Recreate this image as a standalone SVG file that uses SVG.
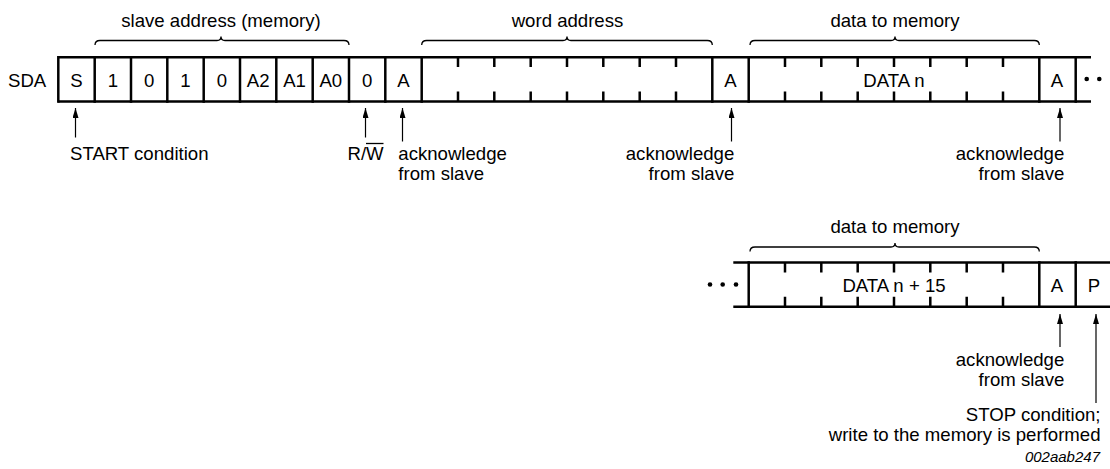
<svg xmlns="http://www.w3.org/2000/svg" width="1110" height="469" viewBox="0 0 1110 469">
<style>
text{font-family:"Liberation Sans",Arial,sans-serif;font-size:18.6px;fill:#000}
.c{text-anchor:middle}
.e{text-anchor:end}
.box{fill:none;stroke:#000;stroke-width:2.5}
.tick{stroke:#000;stroke-width:2.5}
.brace{fill:none;stroke:#000;stroke-width:1.3}
.arr{stroke:#000;stroke-width:1.2;fill:none;marker-end:url(#ah)}
.id{font-style:italic;font-size:15px}
</style>
<defs>
<marker id="ah" viewBox="0 0 10 6" refX="10" refY="3" markerWidth="10" markerHeight="6" markerUnits="userSpaceOnUse" orient="auto">
<path d="M0,0 L10,3 L0,6 Z" fill="#000"/>
</marker>
</defs>
<rect width="1110" height="469" fill="#fff"/>
<text x="8" y="86.5">SDA</text>

<g id="row1">
<line class="tick" x1="58.3" y1="57.3" x2="1091" y2="57.3"/>
<line class="tick" x1="58.3" y1="101.5" x2="1091" y2="101.5"/>
<g id="cell-S"><line class="tick" x1="58.3" y1="56" x2="58.3" y2="102.8"/><text class="c" x="76.5" y="86.5">S</text></g>
<g id="cell-b1"><line class="tick" x1="94.7" y1="56" x2="94.7" y2="102.8"/><text class="c" x="112.8" y="86.5">1</text></g>
<g id="cell-b2"><line class="tick" x1="131" y1="56" x2="131" y2="102.8"/><text class="c" x="149.2" y="86.5">0</text></g>
<g id="cell-b3"><line class="tick" x1="167.3" y1="56" x2="167.3" y2="102.8"/><text class="c" x="185.5" y="86.5">1</text></g>
<g id="cell-b4"><line class="tick" x1="203.7" y1="56" x2="203.7" y2="102.8"/><text class="c" x="221.8" y="86.5">0</text></g>
<g id="cell-A2"><line class="tick" x1="240" y1="56" x2="240" y2="102.8"/><text class="c" x="258.2" y="86.5">A2</text></g>
<g id="cell-A1"><line class="tick" x1="276.3" y1="56" x2="276.3" y2="102.8"/><text class="c" x="294.5" y="86.5">A1</text></g>
<g id="cell-A0"><line class="tick" x1="312.7" y1="56" x2="312.7" y2="102.8"/><text class="c" x="330.8" y="86.5">A0</text></g>
<g id="cell-RW"><line class="tick" x1="349" y1="56" x2="349" y2="102.8"/><text class="c" x="367.2" y="86.5">0</text></g>
<g id="cell-ack1"><line class="tick" x1="385.3" y1="56" x2="385.3" y2="102.8"/><text class="c" x="403.5" y="86.5">A</text></g>
<g id="field-word">
<line class="tick" x1="421.7" y1="56" x2="421.7" y2="102.8"/>
<path class="tick" d="M458,57 v10 M494.3,57 v10 M530.7,57 v10 M567,57 v10 M603.3,57 v10 M639.7,57 v10 M676,57 v10 M458,101.5 v-10 M494.3,101.5 v-10 M530.7,101.5 v-10 M567,101.5 v-10 M603.3,101.5 v-10 M639.7,101.5 v-10 M676,101.5 v-10"/>
</g>
<g id="cell-ack2"><line class="tick" x1="712.3" y1="56" x2="712.3" y2="102.8"/><text class="c" x="730.5" y="86.5">A</text></g>
<g id="field-data1">
<line class="tick" x1="748.7" y1="56" x2="748.7" y2="102.8"/>
<path class="tick" d="M785,57 v10 M821.3,57 v10 M857.7,57 v10 M894,57 v10 M930.3,57 v10 M966.7,57 v10 M1003,57 v10 M785,101.5 v-10 M821.3,101.5 v-10 M857.7,101.5 v-10 M894,101.5 v-10 M930.3,101.5 v-10 M966.7,101.5 v-10 M1003,101.5 v-10"/>
<text class="c" x="894" y="86.5">DATA n</text>
</g>
<g id="cell-ack3"><line class="tick" x1="1039.3" y1="56" x2="1039.3" y2="102.8"/><text class="c" x="1057" y="86.5">A</text>
<line class="tick" x1="1075.7" y1="56" x2="1075.7" y2="102.8"/></g>
<circle cx="1086.7" cy="79" r="2.3"/>
<circle cx="1099.3" cy="79" r="2.3"/>
</g>

<g id="labels-top">
<path class="brace" d="M95,45 Q95,40.5 100,40.5 L217,40.5 Q221,40.5 221,36.5 Q221,40.5 225,40.5 L344,40.5 Q349,40.5 349,45"/>
<text class="c" x="221" y="27">slave address (memory)</text>
<path class="brace" d="M421.7,45 Q421.7,40.5 426.7,40.5 L563,40.5 Q567,40.5 567,36.5 Q567,40.5 571,40.5 L707.3,40.5 Q712.3,40.5 712.3,45"/>
<text class="c" x="567.5" y="27">word address</text>
<path class="brace" d="M750,45 Q750,40.5 755,40.5 L891,40.5 Q895,40.5 895,36.5 Q895,40.5 899,40.5 L1034.3,40.5 Q1039.3,40.5 1039.3,45"/>
<text class="c" x="895" y="27">data to memory</text>
</g>

<g id="row2">
<line class="tick" x1="733.3" y1="262.5" x2="1110" y2="262.5"/>
<line class="tick" x1="733.3" y1="306.8" x2="1110" y2="306.8"/>
<circle cx="710" cy="284.5" r="2.3"/>
<circle cx="722.7" cy="284.5" r="2.3"/>
<circle cx="736" cy="284.5" r="2.3"/>
<g id="field-data2">
<line class="tick" x1="748.7" y1="261.2" x2="748.7" y2="308"/>
<path class="tick" d="M785,262.5 v10 M821.3,262.5 v10 M857.7,262.5 v10 M894,262.5 v10 M930.3,262.5 v10 M966.7,262.5 v10 M1003,262.5 v10 M785,306.8 v-10 M821.3,306.8 v-10 M857.7,306.8 v-10 M894,306.8 v-10 M930.3,306.8 v-10 M966.7,306.8 v-10 M1003,306.8 v-10"/>
<text class="c" x="894" y="291.7">DATA n + 15</text>
</g>
<g id="cell-ack4"><line class="tick" x1="1039.3" y1="261.2" x2="1039.3" y2="308"/><text class="c" x="1057" y="291.7">A</text></g>
<g id="cell-P"><line class="tick" x1="1075.7" y1="261.2" x2="1075.7" y2="308"/><text class="c" x="1094" y="291.7">P</text></g>
<path class="brace" d="M750,251.5 Q750,247 755,247 L891,247 Q895,247 895,243 Q895,247 899,247 L1034.3,247 Q1039.3,247 1039.3,251.5"/>
<text class="c" x="895" y="233">data to memory</text>
</g>

<g id="connectors">
<line class="arr" x1="75.5" y1="137.5" x2="75.5" y2="108"/>
<line class="arr" x1="365.5" y1="137.5" x2="365.5" y2="108"/>
<line class="arr" x1="402.5" y1="141.5" x2="402.5" y2="108"/>
<line class="arr" x1="731.5" y1="141.5" x2="731.5" y2="108"/>
<line class="arr" x1="1060" y1="141.5" x2="1060" y2="108"/>
<line class="arr" x1="1060" y1="347" x2="1060" y2="314"/>
<line class="arr" x1="1096" y1="403" x2="1096" y2="314"/>
</g>

<g id="annotations">
<text x="70" y="160">START condition</text>
<text x="347.5" y="159.5">R/W</text>
<line x1="366" y1="143.5" x2="383.5" y2="143.5" stroke="#000" stroke-width="1.3"/>
<text x="398.3" y="160">acknowledge</text>
<text x="398.3" y="179.5">from slave</text>
<text class="e" x="734.3" y="160">acknowledge</text>
<text class="e" x="734.3" y="179.5">from slave</text>
<text class="e" x="1064.3" y="160">acknowledge</text>
<text class="e" x="1064.3" y="179.5">from slave</text>
<text class="e" x="1064.3" y="366">acknowledge</text>
<text class="e" x="1064.3" y="385.5">from slave</text>
<text class="e" x="1100.5" y="421">STOP condition;</text>
<text class="e" x="1100.5" y="440.5">write to the memory is performed</text>
<text class="e id" x="1100" y="461.7">002aab247</text>
</g>
</svg>
